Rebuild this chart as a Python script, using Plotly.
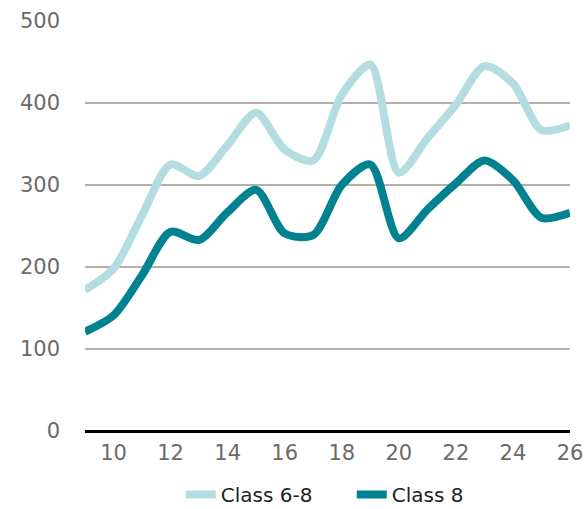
import plotly.graph_objects as go

x_vals = list(range(9, 27))
class_6_8 = [172, 198, 263, 325, 311, 349, 388, 343, 330, 410, 447, 315, 357, 398, 445, 424, 367, 373]
class_8 = [121, 141, 190, 243, 233, 267, 294, 241, 239, 300, 325, 235, 270, 302, 330, 306, 260, 266]
x_ticks = [10, 12, 14, 16, 18, 20, 22, 24, 26]
y_ticks = [0, 100, 200, 300, 400, 500]

fig = go.Figure()
fig.add_trace(go.Scatter(x=x_vals, y=class_6_8, mode="lines", name="Class 6-8",
                         line=dict(color="#b3dde0", width=8, shape="spline", smoothing=0.8)))
fig.add_trace(go.Scatter(x=x_vals, y=class_8, mode="lines", name="Class 8",
                         line=dict(color="#008291", width=8, shape="spline", smoothing=0.8)))

fig.update_layout(
    width=584, height=509,
    margin=dict(l=85, r=14, t=21, b=78, autoexpand=False),
    paper_bgcolor="white", plot_bgcolor="white",
    font=dict(family="DejaVu Sans, sans-serif", size=21, color="#6b6a66"),
    showlegend=True,
    legend=dict(orientation="h", x=0.55, xanchor="center", y=-0.155, yanchor="middle",
                font=dict(size=20, color="#222222"), entrywidth=126, entrywidthmode="pixels"),
    xaxis=dict(range=[9, 26], tickvals=x_ticks, showgrid=False, zeroline=False,
               showline=False, ticks="", ticklabelstandoff=7,
               tickfont=dict(size=21, color="#6b6a66")),
    yaxis=dict(range=[0, 500], tickvals=y_ticks, showgrid=True, gridcolor="#b3b1ab",
               gridwidth=1.5, zeroline=True, zerolinecolor="#000000", zerolinewidth=2.5,
               ticks="", ticklabelstandoff=24, tickfont=dict(size=21, color="#6b6a66")),
)

fig.write_html("out.html")
